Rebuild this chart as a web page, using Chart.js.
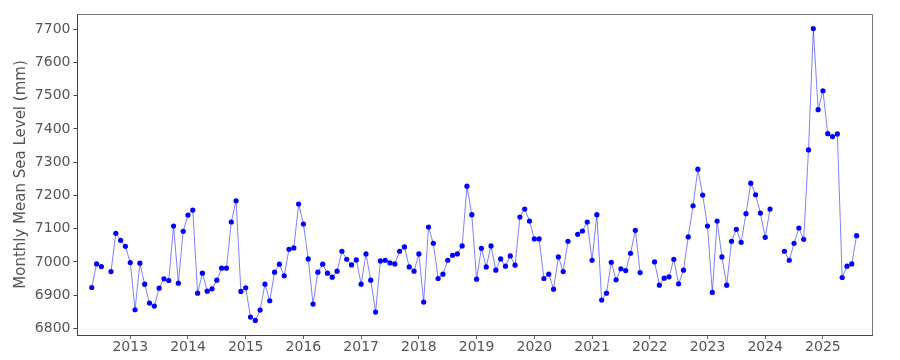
<!DOCTYPE html>
<html>
<head>
<meta charset="utf-8">
<title>Monthly Mean Sea Level</title>
<script src="https://cdn.jsdelivr.net/npm/chart.js@4.4.1/dist/chart.umd.min.js"></script>
<style>
  html, body { margin: 0; padding: 0; background: #fff; }
  #wrap { width: 900px; height: 360px; }
</style>
</head>
<body>
<div id="wrap"><canvas id="graphe" width="900" height="360"></canvas></div>
<script>
// ── Données ─────────────────────────────────────────────────
const startYear  = 2012;
const startMonth = 5;   // mai 2012
const seaLevel = [
    /* 2012 */ 6923, 6994, 6986, null, 6971, 7086, 7065, 7047,
    /* 2013 */ 6998, 6856, 6996, 6933, 6876, 6867, 6921, 6949, 6944, 7108, 6936, 7092,
    /* 2014 */ 7141, 7156, 6906, 6966, 6912, 6919, 6945, 6981, 6981, 7120, 7184, 6911,
    /* 2015 */ 6922, 6834, 6824, 6855, 6933, 6883, 6969, 6993, 6958, 7038, 7042, 7174,
    /* 2016 */ 7114, 7009, 6873, 6969, 6993, 6966, 6954, 6972, 7032, 7008, 6991, 7006,
    /* 2017 */ 6933, 7024, 6945, 6849, 7003, 7005, 6997, 6994, 7032, 7045, 6985, 6972,
    /* 2018 */ 7024, 6879, 7105, 7056, 6950, 6963, 7005, 7020, 7024, 7048, 7228, 7142,
    /* 2019 */ 6948, 7041, 6985, 7048, 6975, 7009, 6987, 7018, 6990, 7135, 7159, 7123,
    /* 2020 */ 7069, 7069, 6950, 6963, 6918, 7015, 6971, 7062, null, 7083, 7093, 7120,
    /* 2021 */ 7005, 7142, 6885, 6906, 6999, 6946, 6979, 6974, 7026, 7095, 6968, null,
    /* 2022 */ null, 7000, 6930, 6951, 6955, 7008, 6934, 6975, 7075, 7169, 7279, 7201,
    /* 2023 */ 7108, 6908, 7123, 7015, 6930, 7062, 7098, 7059, 7145, 7237, 7202, 7147,
    /* 2024 */ 7074, 7159, null, null, 7032, 7005, 7056, 7102, 7068, 7337, 7702, 7458,
    /* 2025 */ 7515, 7386, 7377, 7385, 6953, 6987, 6994, 7079
];
const yearTicks  = [2013, 2014, 2015, 2016, 2017, 2018, 2019, 2020, 2021, 2022, 2023, 2024, 2025];
const levelTicks = [6800, 6900, 7000, 7100, 7200, 7300, 7400, 7500, 7600, 7700];
const titreY = 'Monthly Mean Sea Level (mm)';

// Position des mois en années décimales (1er du mois)
const points = seaLevel.map((v, i) => {
    const m = startMonth - 1 + i;
    return { x: startYear + Math.floor(m / 12) + (m % 12) / 12, y: v };
});

/* ── Cadre haut / droite ─────────────────────────────────── */
const cadre = {
    id: 'cadre',
    afterDraw(chart) {
        const { ctx, chartArea: a } = chart;
        ctx.save();
        ctx.strokeStyle = '#777';
        ctx.lineWidth = 1;
        ctx.beginPath();
        ctx.moveTo(a.left, a.top + 0.5);
        ctx.lineTo(a.right + 0.5, a.top + 0.5);
        ctx.lineTo(a.right + 0.5, a.bottom);
        ctx.stroke();
        ctx.restore();
    }
};

const police = { family: 'DejaVu Sans', size: 14 };

new Chart(document.getElementById('graphe'), {
    type: 'line',
    data: {
        datasets: [{
            data: points,
            borderColor: 'rgba(0,0,255,0.5)',
            borderWidth: 1,
            pointBackgroundColor: '#0000ff',
            pointBorderWidth: 0,
            pointRadius: 2.6,
            spanGaps: false,
            tension: 0,
        }]
    },
    options: {
        responsive: false,
        devicePixelRatio: 1,
        animation: false,
        layout: { padding: { top: 14, right: 28, left: 0, bottom: 0 } },
        plugins: { legend: { display: false }, tooltip: { enabled: false } },
        scales: {
            x: {
                type: 'linear',
                min: 2012.086,
                max: 2025.85,
                afterBuildTicks: s => { s.ticks = yearTicks.map(v => ({ value: v })); },
                afterFit: s => { s.height = 25; },
                grid: { drawOnChartArea: false, drawTicks: true, tickLength: 4, color: '#666' },
                border: { display: true, color: '#444', width: 1 },
                ticks: { font: police, color: '#555', padding: 0, maxRotation: 0, callback: v => String(v) }
            },
            y: {
                min: 6780,
                max: 7746,
                afterBuildTicks: s => { s.ticks = levelTicks.map(v => ({ value: v })); },
                afterFit: s => { s.width = 77.5; },
                grid: { drawOnChartArea: false, drawTicks: true, tickLength: 4, color: '#444' },
                border: { display: true, color: '#444', width: 1 },
                ticks: { font: police, color: '#555', padding: 3, callback: v => String(v) },
                title: {
                    display: true,
                    text: titreY,
                    color: '#555',
                    font: { family: 'DejaVu Sans', size: 15 },
                    padding: { top: 12, bottom: 0 }
                }
            }
        }
    },
    plugins: [cadre]
});
</script>
</body>
</html>
